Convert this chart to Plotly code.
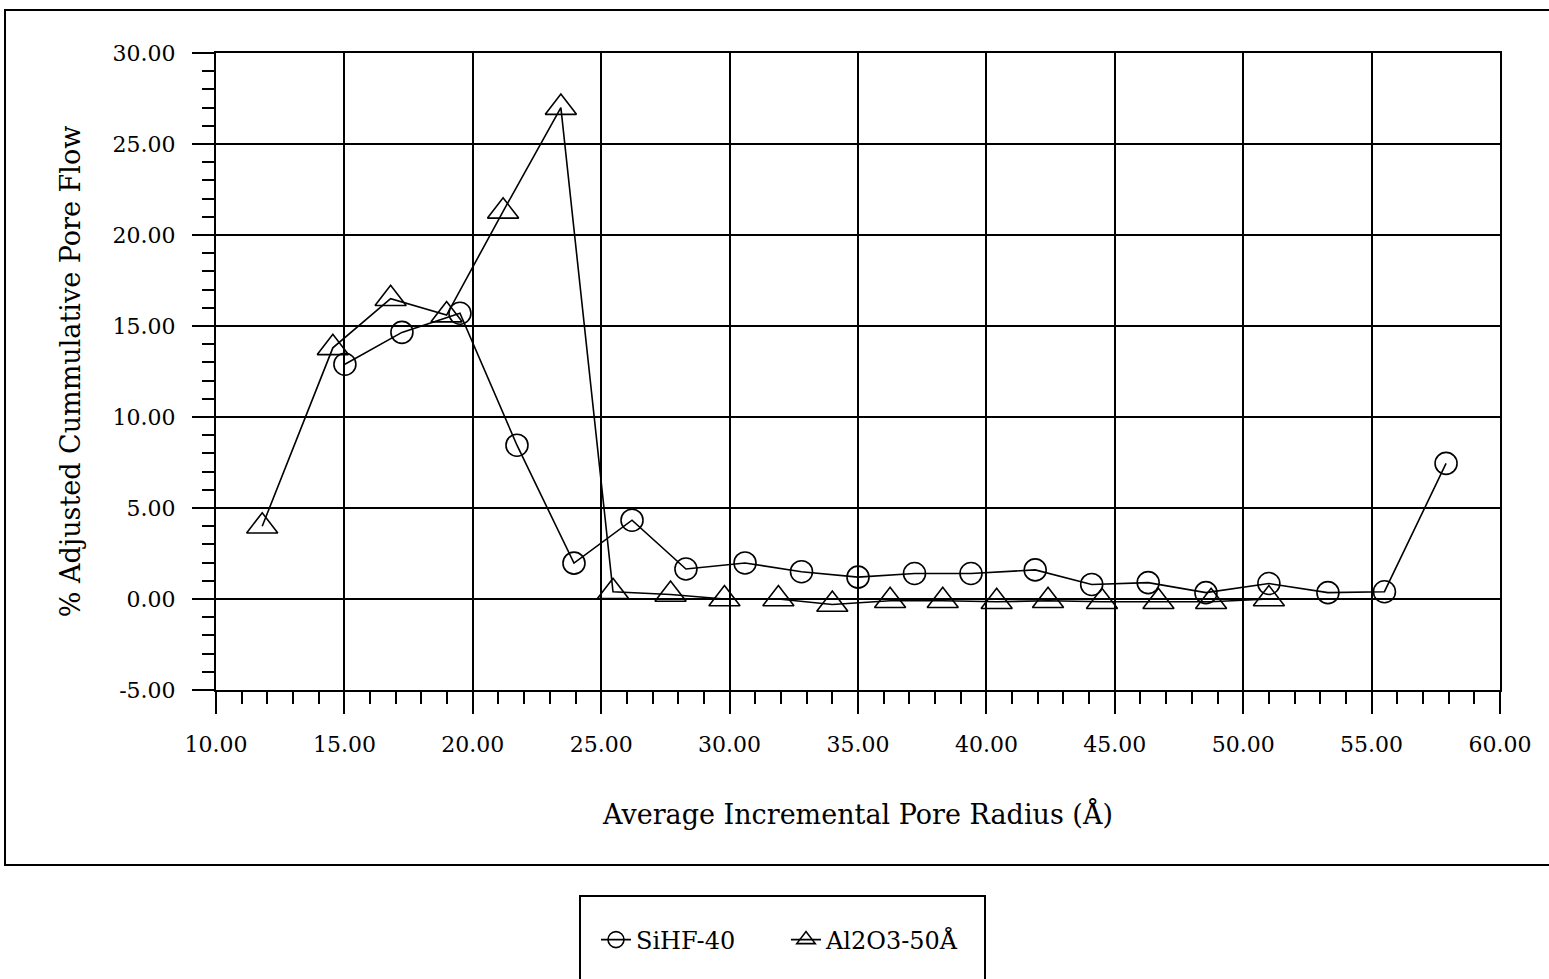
import plotly.graph_objects as go

# ---- data ----
sihf_x = [15.02, 17.24, 19.5, 21.72, 23.94, 26.2, 28.3, 30.6, 32.8, 35.0, 37.2, 39.4,
          41.9, 44.1, 46.3, 48.55, 51.0, 53.3, 55.5, 57.9]
sihf_y = [12.9, 14.65, 15.7, 8.45, 1.97, 4.33, 1.65, 1.98, 1.5, 1.2, 1.4, 1.4,
          1.6, 0.8, 0.9, 0.35, 0.85, 0.35, 0.4, 7.45]

al_x = [11.8, 14.55, 16.8, 18.98, 21.18, 23.43, 25.46, 27.7, 29.8, 31.9, 34.0, 36.25,
        38.3, 40.4, 42.4, 44.5, 46.7, 48.75, 51.0]
al_y = [4.0, 13.8, 16.5, 15.6, 21.3, 27.0, 0.4, 0.25, 0.0, 0.0, -0.3, -0.1,
        -0.1, -0.15, -0.1, -0.15, -0.15, -0.15, 0.0]

series_names = ["SiHF-40", "Al2O3-50Å"]
x_ticks = [10, 15, 20, 25, 30, 35, 40, 45, 50, 55, 60]
y_ticks = [-5, 0, 5, 10, 15, 20, 25, 30]

# ---- layout geometry (pixels) ----
W, H = 1549, 979
L, R, T, B = 216, 1500, 53, 690


def px(xp):
    return (xp - L) / (R - L)


def py(yp):
    return (B - yp) / (B - T)


FONT = "DejaVu Serif"

fig = go.Figure()
fig.add_trace(go.Scatter(
    x=sihf_x, y=sihf_y, name=series_names[0], mode="lines+markers",
    line=dict(color="black", width=1.6),
    marker=dict(symbol="circle-open", size=22, color="black", line=dict(width=1.6)),
))
fig.add_trace(go.Scatter(
    x=al_x, y=al_y, name=series_names[1], mode="lines+markers",
    line=dict(color="black", width=1.6),
    marker=dict(symbol="triangle-up-open", size=27, color="black", line=dict(width=1.6)),
))

axis_common = dict(
    showgrid=True, gridcolor="black", gridwidth=1.6,
    showline=True, linecolor="black", linewidth=2, mirror=True,
    ticks="outside", ticklen=22, tickwidth=1.6, tickcolor="black",
    tickfont=dict(family=FONT, size=22, color="black"),
    zeroline=False,
)

fig.update_xaxes(
    range=[10, 60], tickvals=x_ticks, ticktext=[f"{v:.2f}" for v in x_ticks],
    minor=dict(dtick=1, ticks="outside", ticklen=12, tickwidth=1.6, tickcolor="black", showgrid=False),
    title=dict(text="Average Incremental Pore Radius (Å)",
               font=dict(family=FONT, size=27, color="black"), standoff=49),
    ticklabelstandoff=12,
    **axis_common,
)
fig.update_yaxes(
    range=[-5, 30], tickvals=y_ticks, ticktext=[f"{v:.2f}" for v in y_ticks],
    minor=dict(dtick=1, ticks="outside", ticklen=12, tickwidth=1.6, tickcolor="black", showgrid=False),
    title=dict(text="% Adjusted Cummulative Pore Flow",
               font=dict(family=FONT, size=27, color="black"), standoff=24),
    ticklabelstandoff=12,
    **axis_common,
)

# outer frame and legend frame
fig.add_shape(type="rect", xref="paper", yref="paper",
              x0=px(5), x1=px(1560), y0=py(865), y1=py(10),
              line=dict(color="black", width=2), fillcolor="rgba(0,0,0,0)", layer="below")
fig.add_shape(type="rect", xref="paper", yref="paper",
              x0=px(580), x1=px(985), y0=py(990), y1=py(896),
              line=dict(color="black", width=2), fillcolor="rgba(0,0,0,0)")

fig.update_layout(
    width=W, height=H,
    margin=dict(l=L, r=W - R, t=T, b=H - B),
    paper_bgcolor="white", plot_bgcolor="white",
    showlegend=True,
    legend=dict(
        orientation="h", x=px(596), xanchor="left", y=py(940), yanchor="middle",
        font=dict(family=FONT, size=24, color="black"),
        bgcolor="rgba(0,0,0,0)", borderwidth=0, entrywidth=145, entrywidthmode="pixels",
    ),
    font=dict(family=FONT, color="black"),
)

fig.write_html("out.html", config={"displayModeBar": False},
               post_script="document.body.style.margin='0px';")
